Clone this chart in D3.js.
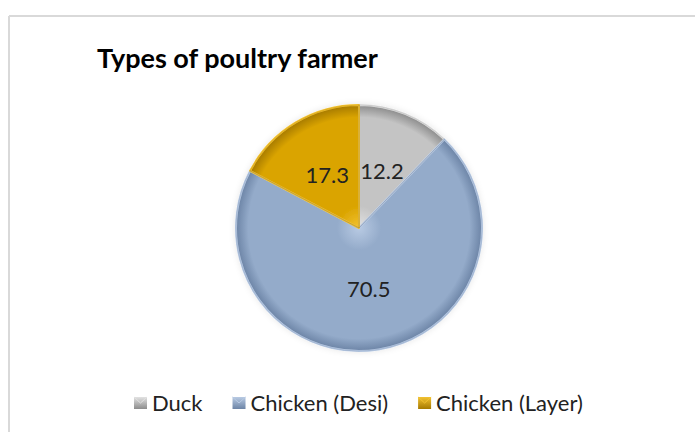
<!DOCTYPE html>
<html><head><meta charset="utf-8">
<script src="https://cdn.jsdelivr.net/npm/d3@7"></script>
<style>
html,body{margin:0;padding:0;background:#fff;}
svg{display:block;}
text{font-family:Lato,"Open Sans",sans-serif;}
</style></head>
<body><svg id="chart" width="695" height="432"></svg>
<script>
const title = "Types of poultry farmer";
const categories = ["Duck", "Chicken (Desi)", "Chicken (Layer)"];
const values = [12.2, 70.5, 17.3];
const labels = ["12.2", "70.5", "17.3"];
const baseColors = ["#c4c4c4", "#94abca", "#daa400"];
const lightColors = ["#e2e2e2", "#b8cae3", "#f2c232"];
const darkColors = ["#8c8c8c", "#6c84a6", "#a67a00"];

const W = 695, H = 432;
const cx = 359, cy = 228, R = 123;
const svg = d3.select("#chart");
const defs = svg.append("defs");

// chart frame (top and left edges visible)
svg.append("line").attr("x1", 9).attr("x2", W).attr("y1", 16).attr("y2", 16)
  .attr("stroke", "#d9d9d9").attr("stroke-width", 2);
svg.append("line").attr("x1", 9).attr("x2", 9).attr("y1", 16).attr("y2", H)
  .attr("stroke", "#d9d9d9").attr("stroke-width", 2);

// title
svg.append("text").attr("x", 97).attr("y", 68)
  .attr("font-size", 27).attr("font-weight", "bold").attr("fill", "#000")
  .text(title);

const data = categories.map((c, i) => ({cat: c, value: values[i], label: labels[i], i}));
const pie = d3.pie().sort(null).value(d => d.value);
const arcs = pie(data);
const arc = d3.arc().innerRadius(0).outerRadius(R);

// radial gradients centred on the pie centre (local coords)
data.forEach((d, i) => {
  const g = defs.append("radialGradient").attr("id", "g" + i)
    .attr("gradientUnits", "userSpaceOnUse").attr("cx", 0).attr("cy", 0).attr("r", R);
  g.append("stop").attr("offset", "0%").attr("stop-color", lightColors[i]);
  g.append("stop").attr("offset", "18%").attr("stop-color", baseColors[i]);
  g.append("stop").attr("offset", "90%").attr("stop-color", baseColors[i]);
  g.append("stop").attr("offset", "100%").attr("stop-color", darkColors[i]);
});
const sh = defs.append("filter").attr("id", "glow").attr("x", "-20%").attr("y", "-20%").attr("width", "140%").attr("height", "140%");
sh.append("feGaussianBlur").attr("in", "SourceAlpha").attr("stdDeviation", 3).attr("result", "b");
sh.append("feFlood").attr("flood-color", "#000").attr("flood-opacity", 0.10);
sh.append("feComposite").attr("in2", "b").attr("operator", "in").attr("result", "s");
const mg = sh.append("feMerge");
mg.append("feMergeNode").attr("in", "s");
mg.append("feMergeNode").attr("in", "SourceGraphic");

const gPie = svg.append("g").attr("transform", `translate(${cx},${cy})`).attr("filter", "url(#glow)");
gPie.selectAll("path.slice").data(arcs).enter().append("path")
  .attr("class", "slice")
  .attr("d", arc)
  .attr("fill", (d, i) => `url(#g${i})`)
  .attr("stroke", (d, i) => lightColors[i])
  .attr("stroke-width", 2)
  .attr("stroke-linejoin", "round");
gPie.selectAll("path.sep").data(arcs).enter().append("path")
  .attr("class", "sep")
  .attr("d", arc)
  .attr("fill", "none")
  .attr("stroke", (d, i) => darkColors[i])
  .attr("stroke-opacity", 0.35)
  .attr("stroke-width", 0.8);

// labels at the slice centroids
svg.append("g").attr("transform", `translate(${cx},${cy})`)
  .selectAll("text").data(arcs).enter().append("text")
  .attr("transform", d => `translate(${arc.centroid(d)})`)
  .attr("text-anchor", "middle").attr("dy", "0.36em")
  .attr("font-size", 22).attr("fill", "#222")
  .text(d => d.data.label);

// legend
const legend = svg.append("g");
let x = 134;
const ly = 403;
data.forEach((d, i) => {
  const gid = "lg" + i;
  const lg = defs.append("linearGradient").attr("id", gid).attr("x1", 0).attr("y1", 0).attr("x2", 0).attr("y2", 1);
  lg.append("stop").attr("offset", "0%").attr("stop-color", lightColors[i]);
  lg.append("stop").attr("offset", "100%").attr("stop-color", darkColors[i]);
  legend.append("rect").attr("x", x).attr("y", ly - 6).attr("width", 13).attr("height", 12)
    .attr("fill", `url(#${gid})`);
  legend.append("path")
    .attr("d", `M${x},${ly - 6}L${x + 6.5},${ly}L${x + 13},${ly - 6}`)
    .attr("fill", "none").attr("stroke", lightColors[i]).attr("stroke-width", 1);
  const t = legend.append("text").attr("x", x + 18).attr("y", ly).attr("dy", "0.36em")
    .attr("font-size", 22).attr("fill", "#222").text(d.cat);
  x = x + 18 + t.node().getComputedTextLength() + 30;
});
</script></body></html>
